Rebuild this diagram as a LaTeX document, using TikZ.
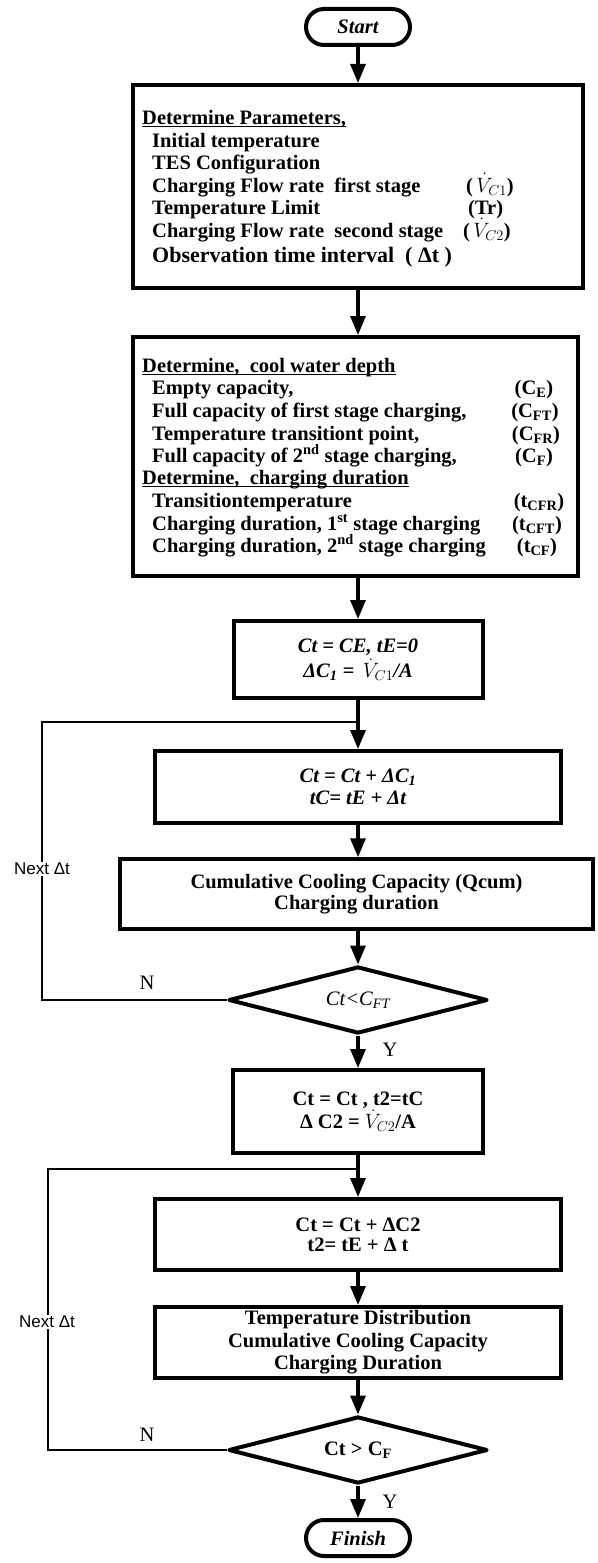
\documentclass[tikz,border=0pt]{standalone}
\usepackage{fontspec}
\setmainfont{Liberation Serif}
\newfontfamily\labelsans{Liberation Sans}
\usetikzlibrary{arrows.meta,shapes.geometric}

% underline at a fixed depth below the baseline
\newsavebox{\ulbox}
\newcommand{\uln}[1]{\sbox{\ulbox}{#1}\rlap{\rule[-3pt]{\wd\ulbox}{1.3pt}}\usebox{\ulbox}}
\newcommand{\lowsub}[1]{\textsubscript{#1}}

\tikzset{
  bodyfont/.style={font=\bfseries\fontsize{20.5}{22}\selectfont},
  box/.style={draw, line width=4pt, inner sep=0pt, align=center, bodyfont},
  term/.style={draw, line width=4pt, rounded corners=18pt, minimum width=104pt,
    minimum height=36pt, inner sep=0pt, font=\bfseries\itshape\fontsize{20.5}{22}\selectfont},
  decide/.style={draw, diamond, aspect=3.9, line width=4pt, line join=round,
    inner sep=0pt, minimum width=259pt, minimum height=67pt, font=\fontsize{20.5}{22}\selectfont},
  flow/.style={line width=3.2pt, -{Triangle[width=15pt,length=19pt]}},
  back/.style={line width=2.5pt},
  ln/.style={anchor=base west, inner sep=0pt, bodyfont},
  rt/.style={anchor=base, inner sep=0pt, bodyfont},
  yn/.style={inner sep=0pt, font=\fontsize{20.5}{22}\selectfont},
  nextdt/.style={fill=white, inner sep=1.5pt, font=\labelsans\fontsize{17}{19}\selectfont}
}

\begin{document}
\begin{tikzpicture}[x=1pt,y=-1pt]
\useasboundingbox (0,0) rectangle (597,1563);

% terminals, process boxes and decisions
\node[term] (start) at (358,27) {Start};
\node[box, minimum width=450pt, minimum height=203pt] (b1) at (358,186.5) {};
\node[box, minimum width=445pt, minimum height=239pt] (b2) at (355.5,456.5) {};
\node[box, minimum width=249pt, minimum height=77pt] (b3) at (358,659.5)
  {\itshape Ct = CE, tE=0\\[2pt] \itshape ΔC\lowsub{1} = \,$\dot{V}_{C1}$/A};
\node[box, minimum width=406pt, minimum height=72pt] (b4) at (358,787)
  {\itshape Ct = Ct + ΔC\lowsub{1}\\ \itshape tC= tE + Δt};
\node[box, line width=3.5pt, minimum width=473pt, minimum height=70pt] (b5) at (356.5,894)
  {Cumulative Cooling Capacity (Qcum)\\[-1pt] Charging duration};
\node[decide] (d1) at (358,1000) {\itshape Ct<C\lowsub{FT}};
\node[box, minimum width=250pt, minimum height=83pt] (b6) at (358,1111.5)
  {Ct = Ct , t2=tC\\ Δ C2 = $\dot{V}_{C2}$/A};
\node[box, minimum width=406pt, minimum height=71pt] (b7) at (358,1234.5)
  {Ct = Ct + ΔC2\\[-2pt] t2= tE + Δ t};
\node[box, minimum width=406pt, minimum height=71pt] (b8) at (358,1342.5)
  {Temperature Distribution\\[0.5pt] Cumulative Cooling Capacity\\[0.5pt] Charging Duration};
\node[decide] (d2) at (358,1450) {\bfseries Ct > C\lowsub{F}};
\node[term] (finish) at (358,1538) {Finish};

% parameter list
\node[ln] (p1) at (142,124) {\uln{Determine Parameters,}};
\node[ln] (p2) at (152,147) {Initial temperature};
\node[ln] (p3) at (152,169) {TES Configuration};
\node[ln] (p4) at (152,192) {Charging Flow rate~ first stage};
\node[ln] (p5) at (152,214) {Temperature Limit};
\node[ln] (p6) at (152,237) {Charging Flow rate~ second stage};
\node[ln, font=\bfseries\fontsize{22}{24}\selectfont] (p7) at (152,262) {Observation time interval~ ( Δt )};
\node[ln] (p4r) at (466,192) {(\,$\dot{V}_{C1}$)};
\node[ln] (p5r) at (468,214) {(Tr)};
\node[ln] (p6r) at (463,237) {(\,$\dot{V}_{C2}$)};

% water depth and charging duration list
\node[ln] (q1) at (142,372) {\uln{Determine,~ cool water depth}};
\node[ln] (q2) at (152,394) {Empty capacity,};
\node[ln] (q3) at (152,417) {Full capacity of first stage charging,};
\node[ln] (q4) at (152,440) {Temperature transitiont point,};
\node[ln] (q5) at (152,462) {Full capacity of 2\textsuperscript{nd} stage charging,};
\node[ln] (q6) at (142,484) {\uln{Determine,~ charging duration}};
\node[ln] (q7) at (152,507) {Transitiontemperature};
\node[ln] (q8) at (152,530) {Charging duration, 1\textsuperscript{st} stage charging};
\node[ln] (q9) at (152,552) {Charging duration, 2\textsuperscript{nd} stage charging};
\node[rt] (q2r) at (534,394) {(C\lowsub{E})};
\node[rt] (q3r) at (535,417) {(C\lowsub{FT})};
\node[rt] (q4r) at (536,440) {(C\lowsub{FR})};
\node[rt] (q5r) at (534,462) {(C\lowsub{F})};
\node[rt] (q7r) at (539,507) {(t\lowsub{CFR})};
\node[rt] (q8r) at (537,530) {(t\lowsub{CFT})};
\node[rt] (q9r) at (537,552) {(t\lowsub{CF})};

% main flow
\draw[flow] (start.south) -- (start.south |- b1.north);
\draw[flow] (b1.south) -- (b1.south |- b2.north);
\draw[flow] (b2.south -| b3.north) -- (b3.north);
\draw[flow] (b3.south) -- (b3.south |- b4.north);
\draw[flow] (b4.south) -- (b4.south |- b5.north);
\draw[flow] (b5.south -| d1.north) -- (d1.north);
\draw[flow] (d1.south) -- (d1.south |- b6.north);
\draw[flow] (b6.south) -- (b6.south |- b7.north);
\draw[flow] (b7.south) -- (b7.south |- b8.north);
\draw[flow] (b8.south) -- (b8.south |- d2.north);
\draw[flow] (d2.south) -- (d2.south |- finish.north);

% first-stage loop
\coordinate (j1) at (358,722);
\coordinate (l1) at (42,722);
\draw[back] (d1.west) -| (l1) -- (j1);
\node[nextdt] (n1) at (42,869) {Next Δt};
\node[yn] (no1) at (147,983) {N};
\node[yn] (yes1) at (390,1050) {Y};

% second-stage loop
\coordinate (j2) at (358,1169);
\coordinate (l2) at (48,1169);
\draw[back] (d2.west) -| (l2) -- (j2);
\node[nextdt] (n2) at (47,1322) {Next Δt};
\node[yn] (no2) at (147,1435) {N};
\node[yn] (yes2) at (390,1502) {Y};
\end{tikzpicture}
\end{document}
